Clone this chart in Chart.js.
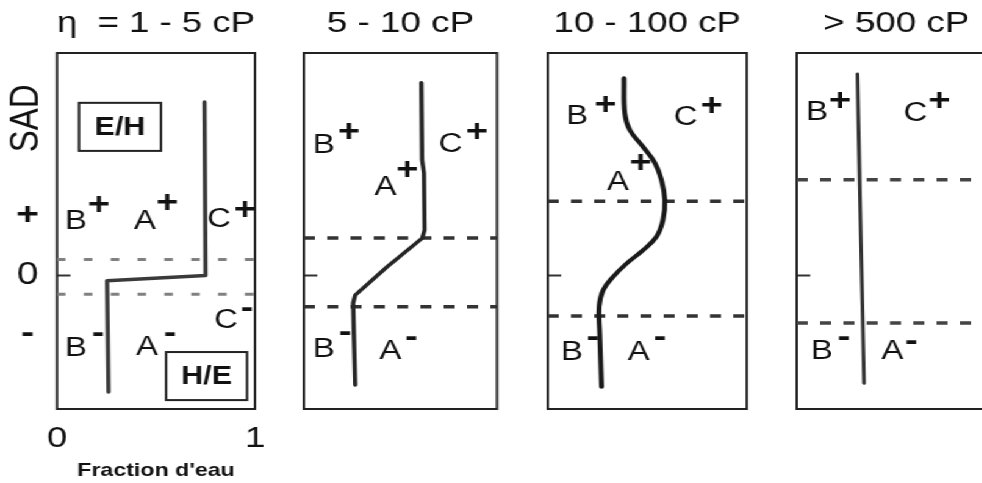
<!DOCTYPE html>
<html>
<head>
<meta charset="utf-8">
<script src="https://cdn.jsdelivr.net/npm/chart.js@4.4.1/dist/chart.umd.min.js"></script>
<style>
  html, body { margin: 0; padding: 0; background: #fff; overflow: hidden; width: 982px; height: 483px; }
  /* the original figure is stretched sideways, so the whole stage is too */
  #stage { position: absolute; left: 0; top: 0; width: 805px; height: 483px; transform: scaleX(1.22); transform-origin: 0 0; }
  .panel { position: absolute; top: 0; height: 483px; }
</style>
</head>
<body>
<div id="stage"></div>
<script>
const FONT = "'Liberation Sans', Arial, Helvetica, sans-serif";
const STRETCH = 1.22;

// titles and axes
const titles = ['η  = 1 - 5 cP', '5 - 10 cP', '10 - 100 cP', '> 500 cP'];
const xTitle = "Fraction d'eau";
const xTickValues = [0, 1];
const xTickLabels = ['0', '1'];
const yTickValues = [1.35, 0, -1.3];
const yTickLabels = ['+', '0', '-'];
const yMin = -3;
const yMax = 5;
const yTitle = 'SAD';

// water fraction (x) vs SAD (y), one curve per viscosity range
const curve1X = [0.745, 0.75, 0.253, 0.26];
const curve1Y = [3.9, 0.0, -0.12, -2.62];
const curve2X = [0.608, 0.612, 0.622, 0.625, 0.613, 0.43, 0.266, 0.255, 0.266];
const curve2Y = [4.33, 2.6, 2.3, 1.02, 0.84, 0.19, -0.44, -0.62, -2.46];
const curve3X = [0.383, 0.387, 0.412, 0.479, 0.538, 0.571, 0.588, 0.579, 0.546, 0.479, 0.396, 0.328, 0.278, 0.258, 0.261, 0.27];
const curve3Y = [4.43, 3.65, 3.27, 2.89, 2.53, 2.15, 1.70, 1.25, 0.87, 0.57, 0.27, -0.03, -0.33, -0.70, -1.29, -2.50];
const curve4X = [0.305, 0.318, 0.338];
const curve4Y = [4.53, 1.70, -2.42];

// SAD levels of the dashed boundaries
const dash1 = [0.36, -0.42];
const dash2 = [0.84, -0.70];
const dash3 = [1.67, -0.91];
const dash4 = [2.15, -1.07];

// region annotations: [text, x, y]
const letters1 = [['B', 0.096, 1.22], ['A', 0.444, 1.22], ['C', 0.818, 1.25], ['B', 0.096, -1.65], ['A', 0.455, -1.61], ['C', 0.854, -1.02]];
const signs1 = [['+', 0.212, 1.58], ['+', 0.556, 1.63], ['+', 0.949, 1.47], ['-', 0.207, -1.31], ['-', 0.571, -1.31], ['-', 0.96, -0.73]];
const letters2 = [['B', 0.104, 2.93], ['C', 0.76, 2.95], ['A', 0.422, 1.97], ['B', 0.104, -1.67], ['A', 0.448, -1.70]];
const signs2 = [['+', 0.234, 3.22], ['+', 0.896, 3.22], ['+', 0.536, 2.35], ['-', 0.214, -1.29], ['-', 0.557, -1.40]];
const letters3 = [['B', 0.147, 3.58], ['C', 0.693, 3.54], ['A', 0.352, 2.08], ['B', 0.121, -1.73], ['A', 0.457, -1.73]];
const signs3 = [['+', 0.29, 3.83], ['+', 0.824, 3.81], ['+', 0.467, 2.51], ['-', 0.226, -1.40], ['-', 0.563, -1.40]];
const letters4 = [['B', 0.101, 3.67], ['C', 0.596, 3.65], ['B', 0.126, -1.72], ['A', 0.48, -1.72]];
const signs4 = [['+', 0.217, 3.92], ['+', 0.717, 3.9], ['-', 0.237, -1.40], ['-', 0.576, -1.49]];
// [text, x0, x1, y0, y1]
const boxes1 = [['E/H', 0.111, 0.525, 3.88, 2.80], ['H/E', 0.551, 0.96, -1.72, -2.80]];

// frame edges in page pixels
const boxLeftPx = [57, 304, 548, 797];
const boxRightPx = [255, 496, 747, 995];
const RIGHT_ROOM = 12;

const panels = [
  { x: curve1X, y: curve1Y, dashes: dash1, letters: letters1, signs: signs1, boxes: boxes1,
    line: { color: '#3a3a3a', width: 3.5, tension: 0 }, dash: { color: '#808080', width: 3, pattern: [7, 15] } },
  { x: curve2X, y: curve2Y, dashes: dash2, letters: letters2, signs: signs2, boxes: [],
    line: { color: '#262626', width: 3.5, tension: 0 }, dash: { color: '#333', width: 3.5, pattern: [9, 10] } },
  { x: curve3X, y: curve3Y, dashes: dash3, letters: letters3, signs: signs3, boxes: [],
    line: { color: '#1a1a1a', width: 4, tension: 0.4 }, dash: { color: '#333', width: 3.5, pattern: [9, 10] } },
  { x: curve4X, y: curve4Y, dashes: dash4, letters: letters4, signs: signs4, boxes: [],
    line: { color: '#333', width: 3, tension: 0 }, dash: { color: '#444', width: 3.5, pattern: [9, 10] } }
];

// full box around the plot area
const frame = {
  id: 'frame',
  beforeDatasetsDraw(chart) {
    const { ctx, chartArea: a } = chart;
    ctx.save();
    ctx.strokeStyle = '#222';
    ctx.lineWidth = 2;
    ctx.strokeRect(a.left, a.top, a.right - a.left, a.bottom - a.top);
    ctx.restore();
  }
};

function notes(p, first) {
  return {
    id: 'notes',
    afterDatasetsDraw(chart) {
      const { ctx } = chart;
      const xs = chart.scales.x, ys = chart.scales.y;
      ctx.save();
      ctx.fillStyle = '#111';
      ctx.strokeStyle = '#222';
      ctx.textAlign = 'center';
      ctx.textBaseline = 'middle';
      ctx.font = '27px ' + FONT;
      p.letters.forEach(([t, x, y]) => ctx.fillText(t, xs.getPixelForValue(x), ys.getPixelForValue(y)));
      ctx.font = 'bold 31px ' + FONT;
      p.signs.forEach(([t, x, y]) => ctx.fillText(t, xs.getPixelForValue(x), ys.getPixelForValue(y)));
      ctx.font = 'bold 25px ' + FONT;
      ctx.lineWidth = 2;
      p.boxes.forEach(([t, x0, x1, y0, y1]) => {
        const l = xs.getPixelForValue(x0), r = xs.getPixelForValue(x1);
        const tp = ys.getPixelForValue(y0), b = ys.getPixelForValue(y1);
        ctx.strokeRect(l, tp, r - l, b - tp);
        ctx.fillText(t, (l + r) / 2, (tp + b) / 2 + 1);
      });
      if (first) {
        ctx.font = '33px ' + FONT;
        ctx.translate(ys.left + ys.width / 2 - 1, ys.getPixelForValue(3.53));
        ctx.rotate(-Math.PI / 2);
        ctx.fillText(yTitle, 0, 0);
      }
      ctx.restore();
    }
  };
}

const stage = document.getElementById('stage');

panels.forEach((p, i) => {
  const first = i === 0;
  const boxL = boxLeftPx[i] / STRETCH;
  const boxR = boxRightPx[i] / STRETCH;
  const yw = first ? boxL : 4;

  const wrap = document.createElement('div');
  wrap.className = 'panel';
  wrap.style.left = (boxL - yw) + 'px';
  wrap.style.width = (yw + boxR - boxL + RIGHT_ROOM) + 'px';
  const canvas = document.createElement('canvas');
  wrap.appendChild(canvas);
  stage.appendChild(wrap);

  const datasets = [{
    data: p.x.map((x, k) => ({ x: x, y: p.y[k] })),
    borderColor: p.line.color,
    borderWidth: p.line.width,
    tension: p.line.tension,
    borderCapStyle: 'round',
    borderJoinStyle: 'round',
    pointRadius: 0
  }];
  p.dashes.forEach(v => {
    datasets.push({
      data: [{ x: 0, y: v }, { x: 1, y: v }],
      borderColor: p.dash.color,
      borderWidth: p.dash.width,
      borderDash: p.dash.pattern,
      pointRadius: 0
    });
  });

  new Chart(canvas, {
    type: 'line',
    data: { datasets: datasets },
    options: {
      responsive: true,
      maintainAspectRatio: false,
      animation: false,
      layout: { padding: { left: 0, right: RIGHT_ROOM, top: 0, bottom: first ? 0 : 74 } },
      plugins: {
        legend: { display: false },
        tooltip: { enabled: false },
        title: {
          display: true,
          text: titles[i],
          fullSize: false,
          color: '#111',
          font: { family: FONT, size: 30, weight: 'normal' },
          padding: { top: 6, bottom: 11 }
        }
      },
      scales: {
        x: {
          type: 'linear',
          min: 0,
          max: 1,
          display: first,
          afterBuildTicks: s => { s.ticks = xTickValues.map(v => ({ value: v })); },
          afterFit: s => {
            if (first) {
              s.height = 74;
              s.paddingLeft = 0;
              s.paddingRight = 0;
            }
          },
          grid: { display: false, drawTicks: false },
          border: { display: false },
          ticks: {
            padding: 12,
            color: '#111',
            maxRotation: 0,
            font: { family: FONT, size: 30 },
            callback: (v, k) => xTickLabels[k]
          },
          title: {
            display: true,
            text: xTitle,
            color: '#111',
            font: { family: FONT, size: 19, weight: 'bold' },
            padding: { top: 0, bottom: 1 }
          }
        },
        y: {
          type: 'linear',
          min: yMin,
          max: yMax,
          afterBuildTicks: s => { s.ticks = yTickValues.map(v => ({ value: v })); },
          afterFit: s => { s.width = yw; },
          border: { display: false },
          grid: {
            drawOnChartArea: false,
            drawTicks: true,
            tickLength: -11,
            tickWidth: 2,
            tickColor: c => yTickLabels[c.index] === '0' ? '#333' : 'rgba(0,0,0,0)'
          },
          ticks: {
            display: first,
            padding: 25.8,
            crossAlign: 'center',
            color: '#111',
            font: c => ({ family: FONT, size: 32, weight: yTickLabels[c.index] === '0' ? 'normal' : 'bold' }),
            callback: (v, k) => yTickLabels[k]
          }
        }
      }
    },
    plugins: [frame, notes(p, first)]
  });
});
</script>
</body>
</html>
